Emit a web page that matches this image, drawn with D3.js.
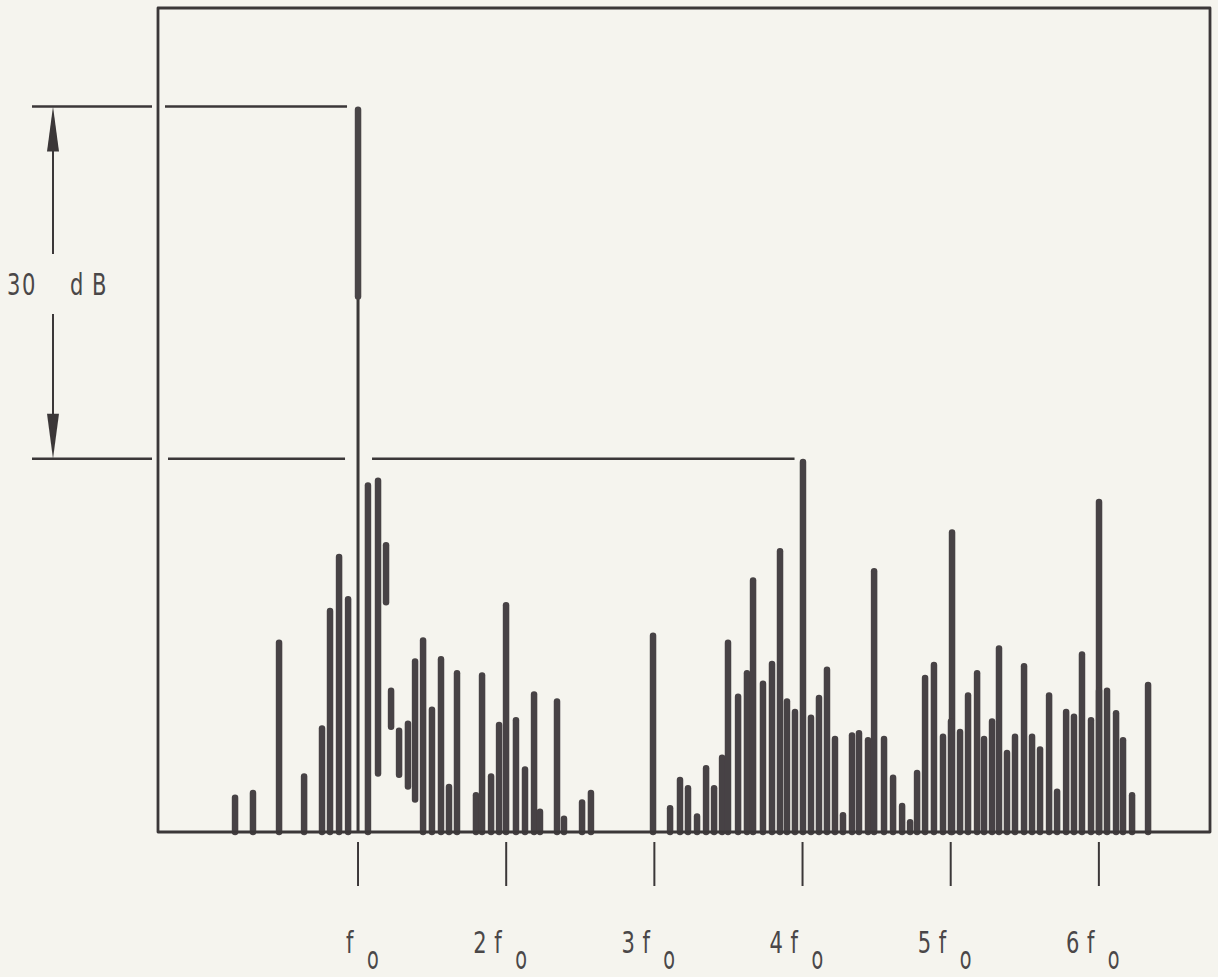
<!DOCTYPE html>
<html>
<head>
<meta charset="utf-8">
<script src="https://cdn.jsdelivr.net/npm/d3@7"></script>
<style>
  html, body { margin: 0; padding: 0; background: #f5f4ee; overflow: hidden; }
  svg { display: block; }
  text { font-family: "DejaVu Sans", "Liberation Sans", sans-serif; fill: #4a4748; }
</style>
</head>
<body>
<div id="chart"></div>
<script>
// ---- data: spectral lines, frequency in units of f0, level in dB relative to the carrier ----
const harmonics = [1, 2, 3, 4, 5, 6];
const tickNums = ["", "2", "3", "4", "5", "6"];
const tickLetter = "f";
const tickSub = "o";
const refLevels = [0, -30];
const refNum = "30";
const refUnit = "dB";

const lineFreq = [
  0.170, 0.291, 0.467, 0.636, 0.757, 0.811, 0.872, 0.933, 1.000, 1.067,
  1.135, 1.189, 1.223, 1.277, 1.337, 1.385, 1.439, 1.499, 1.560, 1.614,
  1.668, 1.796, 1.837, 1.898, 1.952, 1.999, 2.066, 2.127, 2.188, 2.228,
  2.343, 2.390, 2.512, 2.572, 2.991, 3.106, 3.173, 3.227, 3.288, 3.349,
  3.403, 3.457, 3.497, 3.565, 3.625, 3.666, 3.733, 3.794, 3.848, 3.895,
  3.949, 4.003, 4.057, 4.111, 4.165, 4.219, 4.273, 4.334, 4.381, 4.442,
  4.483, 4.550, 4.611, 4.672, 4.726, 4.773, 4.827, 4.887, 4.948, 5.009,
  5.002, 5.063, 5.117, 5.178, 5.225, 5.279, 5.326, 5.380, 5.434, 5.495,
  5.549, 5.603, 5.664, 5.718, 5.779, 5.832, 5.886, 5.947, 6.001, 6.001,
  6.055, 6.116, 6.163, 6.224, 6.332
];
const lineTop = [
  -58.6, -58.2, -45.4, -56.8, -52.7, -42.7, -38.1, -41.7,   0.0, -32.0,
  -31.6, -37.1, -49.5, -52.9, -52.3, -47.0, -45.2, -51.1, -46.8, -57.7,
  -48.0, -58.4, -48.2, -56.8, -52.4, -42.2, -52.0, -56.2, -49.8, -59.8,
  -50.4, -60.4, -59.0, -58.2, -44.8, -59.5, -57.1, -57.8, -60.2, -56.1,
  -57.8, -55.2, -45.4, -50.0, -48.0, -40.1, -48.9, -47.2, -37.6, -50.4,
  -51.3, -30.0, -51.8, -50.1, -47.7, -53.6, -60.1, -53.3, -53.1, -53.7,
  -39.3, -53.6, -56.9, -59.3, -60.7, -56.5, -48.4, -47.3, -53.4, -36.0,
  -52.1, -53.0, -49.9, -48.0, -53.6, -52.1, -45.9, -54.8, -53.4, -47.4,
  -53.4, -54.5, -49.9, -58.1, -51.3, -51.7, -46.4, -52.0, -33.4, -49.5,
  -49.5, -51.4, -53.7, -58.4, -49.0
];
// lower end of the trace for the few lines that do not reach the floor (others reach the floor)
const lineBottom = {
  10: -57.1, 11: -42.5, 12: -53.1, 13: -57.2, 14: -58.2, 15: -59.3
};
const floorDb = -61.8;
const ceilDb = 8.4;
const fMin = -0.35, fMax = 6.75;

// ---- layout ----
const W = 1218, H = 977;
const plot = { left: 158, right: 1210, top: 8, bottom: 832 };

const svg = d3.select("#chart").append("svg").attr("width", W).attr("height", H);
svg.append("rect").attr("width", W).attr("height", H).attr("fill", "#f5f4ee");

const defs = svg.append("defs");
defs.append("filter").attr("id", "soft")
  .append("feGaussianBlur").attr("stdDeviation", 0.6);

const x = d3.scaleLinear().domain([fMin, fMax]).range([plot.left, plot.right]);
const y = d3.scaleLinear().domain([floorDb, ceilDb]).range([plot.bottom, plot.top]);

const ink = "#3b3738";

// spectral lines
const lines = lineFreq.map((f, i) => ({
  f, top: lineTop[i], bottom: lineBottom[i] !== undefined ? lineBottom[i] : floorDb
}));

const g = svg.append("g").attr("filter", "url(#soft)");
const thick = 6.5, thin = 3;
lines.forEach(d => {
  const xt = x(d.f);
  const yt = y(d.top), yb = y(d.bottom);
  const len = yb - yt;
  if (len > 400) {
    g.append("line").attr("x1", xt).attr("x2", xt)
      .attr("y1", yt + 2).attr("y2", yb)
      .attr("stroke", ink).attr("stroke-width", thin);
    g.append("line").attr("x1", xt).attr("x2", xt)
      .attr("y1", yt + thick / 2).attr("y2", yt + 190)
      .attr("stroke", "#4a4547").attr("stroke-width", thick).attr("stroke-linecap", "round");
  } else {
    g.append("line").attr("x1", xt).attr("x2", xt)
      .attr("y1", yt + thick / 2).attr("y2", Math.max(yt + thick / 2, yb - (d.bottom === floorDb ? 0 : thick / 2)))
      .attr("stroke", "#474244").attr("stroke-width", thick).attr("stroke-linecap", "round");
  }
});

// frame
svg.append("path")
  .attr("d", `M${plot.left},${plot.bottom} L${plot.left},${plot.top} L${plot.right},${plot.top} L${plot.right},${plot.bottom} Z`)
  .attr("fill", "none").attr("stroke", ink).attr("stroke-width", 2.8).attr("stroke-linejoin", "round");

// x ticks below the frame, drawn from the scale
const sx = 0.68;
const xAxis = d3.axisBottom(x).tickValues(harmonics).tickSize(0).tickFormat("");
const ax = svg.append("g").attr("transform", `translate(0,${plot.bottom})`).call(xAxis);
ax.select(".domain").remove();
harmonics.forEach((h, i) => {
  const xt = x(h);
  svg.append("line").attr("x1", xt).attr("x2", xt).attr("y1", 842).attr("y2", 886)
    .attr("stroke", ink).attr("stroke-width", 2);
  const lg = svg.append("g").attr("transform", `translate(${xt},953) scale(${sx},1)`);
  const t = lg.append("text").attr("font-size", 31);
  if (tickNums[i]) t.append("tspan").attr("x", -33 / sx).text(tickNums[i]);
  t.append("tspan").attr("x", -12 / sx).text(tickLetter);
  svg.append("g").attr("transform", `translate(${xt + 9},969) scale(0.8,1.35)`)
    .append("text").attr("font-size", 24).text(tickSub);
});

// 30 dB reference annotation
const yTop = y(refLevels[0]), yRef = y(refLevels[1]);
const hl = (x1, x2, yy) => svg.append("line").attr("x1", x1).attr("x2", x2).attr("y1", yy).attr("y2", yy)
  .attr("stroke", ink).attr("stroke-width", 2.5);
hl(32, 152, yTop); hl(165, x(1) - 11, yTop);
hl(32, 152, yRef); hl(168, x(1) - 13, yRef); hl(x(1) + 14, x(4) - 8, yRef);

const ax0 = 53;
svg.append("line").attr("x1", ax0).attr("x2", ax0).attr("y1", yTop + 30).attr("y2", 254)
  .attr("stroke", ink).attr("stroke-width", 2);
svg.append("line").attr("x1", ax0).attr("x2", ax0).attr("y1", 314).attr("y2", yRef - 30)
  .attr("stroke", ink).attr("stroke-width", 2);
svg.append("path").attr("d", `M${ax0},${yTop} L${ax0 - 6},${yTop + 45} L${ax0 + 6},${yTop + 45} Z`).attr("fill", ink);
svg.append("path").attr("d", `M${ax0},${yRef} L${ax0 - 6},${yRef - 45} L${ax0 + 6},${yRef - 45} Z`).attr("fill", ink);
const rg = svg.append("g").attr("transform", `translate(7,295) scale(${sx},1)`);
const rt = rg.append("text").attr("font-size", 31);
rt.append("tspan").attr("x", 0).attr("letter-spacing", 2.3).text(refNum + " ");
rt.append("tspan").attr("x", 63 / sx).attr("letter-spacing", 12.7).text(refUnit);
</script>
</body>
</html>
